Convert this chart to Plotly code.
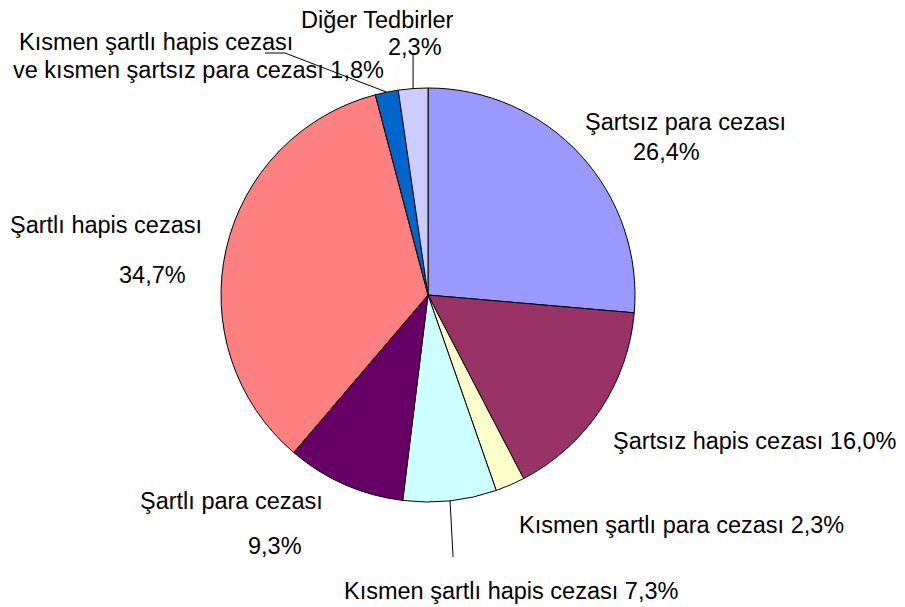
import math
import plotly.graph_objects as go

# window size and page margin offset (browser body margin)
WIN_W, WIN_H = 905, 607
OFF = 8
W, H = WIN_W - OFF, WIN_H - OFF

labels = [
    "Şartsız para cezası",
    "Şartsız hapis cezası",
    "Kısmen şartlı para cezası",
    "Kısmen şartlı hapis cezası",
    "Şartlı para cezası",
    "Şartlı hapis cezası",
    "Kısmen şartlı hapis cezası ve kısmen şartsız para cezası",
    "Diğer Tedbirler",
]
values = [26.4, 16.0, 2.3, 7.3, 9.3, 34.7, 1.8, 2.3]
colors = ["#9999FF", "#993366", "#FFFFCC", "#CCFFFF", "#660066", "#FF8080", "#0066CC", "#CCCCFF"]
pct_text = ["26,4%", "16,0%", "2,3%", "7,3%", "9,3%", "34,7%", "1,8%", "2,3%"]

# pie geometry (window pixels)
CX, CY, R = 428, 295, 207

def px(x):
    return (x - OFF) / W

def py(y):
    return 1 - (y - OFF) / H

fig = go.Figure(go.Pie(
    labels=labels,
    values=values,
    sort=False,
    direction="clockwise",
    rotation=0,
    marker=dict(colors=colors, line=dict(color="black", width=1)),
    textinfo="none",
    hoverinfo="label+percent",
    domain=dict(x=[px(CX - R), px(CX + R)], y=[py(CY + R), py(CY - R)]),
    showlegend=False,
))

FONT = dict(family="Liberation Sans, Arial, sans-serif", size=23.5, color="black")

# label text blocks: (text, left x px, center y px) in window pixels
texts = [
    ("Diğer Tedbirler", 301, 20),
    ("2,3%", 388, 47),
    ("Kısmen şartlı hapis cezası", 19, 42),
    ("ve kısmen şartsız para cezası " + pct_text[6], 13, 70),
    (labels[0], 585, 122),
    (pct_text[0], 633, 152),
    (labels[1] + " " + pct_text[1], 613, 441),
    (labels[2] + " " + pct_text[2], 519, 525),
    (labels[3] + " " + pct_text[3], 344, 591),
    (labels[4], 140, 501),
    (pct_text[4], 248, 546),
    (labels[5], 10, 225),
    (pct_text[5], 119, 275),
]
annotations = []
for t, x, y in texts:
    annotations.append(dict(
        text=t, x=px(x - 2), y=py(y), xref="paper", yref="paper",
        xanchor="left", yanchor="middle", showarrow=False, font=FONT,
    ))

# leader lines from slice mid-angle edge points
total = sum(values)
def edge_point(i):
    before = sum(values[:i])
    ang = (before + values[i] / 2) / total * 2 * math.pi
    return CX + R * math.sin(ang), CY - R * math.cos(ang)

shapes = []
def line(pts):
    path = "M " + " L ".join(f"{px(x)},{py(y)}" for x, y in pts)
    shapes.append(dict(type="path", path=path, xref="paper", yref="paper",
                       line=dict(color="black", width=1)))

ex, ey = edge_point(7)
line([(ex, ey), (ex, 55)])
ex, ey = edge_point(6)
line([(ex, ey), (285, 53), (265, 53)])
ex, ey = edge_point(3)
line([(ex, ey), (ex + 3, 557)])

fig.update_layout(
    width=W, height=H,
    margin=dict(l=0, r=0, t=0, b=0),
    paper_bgcolor="white",
    plot_bgcolor="white",
    annotations=annotations,
    shapes=shapes,
)

fig.write_html("out.html")
